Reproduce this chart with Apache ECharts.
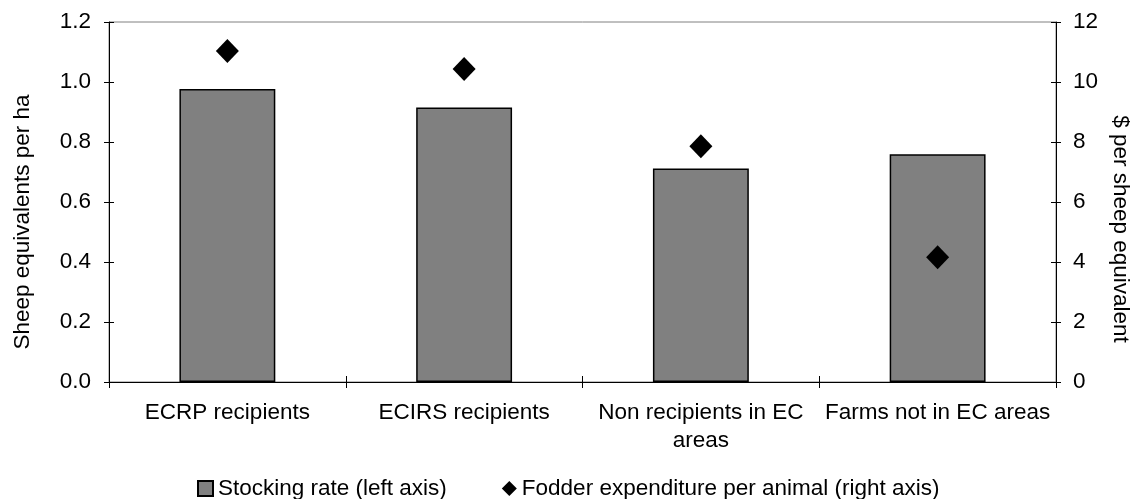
<!DOCTYPE html>
<html><head><meta charset="utf-8">
<script src="https://cdn.jsdelivr.net/npm/echarts@6/dist/echarts.min.js"></script>
<style>html,body{margin:0;padding:0;background:#fff}#c{width:1133px;height:499px}</style>
</head><body><div id="c"></div>
<script>
const categories = ['ECRP recipients', 'ECIRS recipients', 'Non recipients in EC\nareas', 'Farms not in EC areas'];
const stockingRate = [0.977, 0.915, 0.712, 0.759];
const fodderExpenditure = [11.03, 10.43, 7.86, 4.16];
const leftTicks = [0, 1.2, 0.2];
const rightTicks = [0, 12, 2];

const F = 'Liberation Sans, Arial, sans-serif';
const FS = 22.5;
const chart = echarts.init(document.getElementById('c'));
const hiddenAxis = (pos, mn, mx, iv) => ({
  type: 'value', position: pos, min: mn, max: mx, interval: iv,
  axisLine: {show: false}, axisLabel: {show: false}, splitLine: {show: false},
  axisTick: {show: true, inside: true, length: 5, lineStyle: {color: '#000', width: 1}}
});
chart.setOption({
  animation: false,
  textStyle: {fontFamily: F},
  grid: {left: 109, right: 77, top: 22, bottom: 117, show: true, borderColor: '#808080', borderWidth: 1,
         containLabel: false, outerBoundsMode: 'none'},
  legend: {
    top: 472, left: 192, itemGap: 55, itemWidth: 15, itemHeight: 15,
    textStyle: {fontFamily: F, fontSize: FS, color: '#000'},
    data: [
      {name: 'Stocking rate (left axis)', icon: 'rect'},
      {name: 'Fodder expenditure per animal (right axis)', icon: 'diamond'}
    ]
  },
  xAxis: [{
    type: 'category', data: categories,
    axisLine: {lineStyle: {color: '#000', width: 1}},
    axisTick: {show: true, length: 6, lineStyle: {color: '#000'}},
    axisLabel: {fontFamily: F, fontSize: FS, color: '#000', margin: 17, lineHeight: 28, interval: 0}
  }, {
    type: 'category', data: categories, position: 'bottom',
    axisLine: {show: false}, axisLabel: {show: false},
    axisTick: {show: true, inside: true, length: 6, lineStyle: {color: '#000'}}
  }],
  yAxis: [{
    type: 'value', position: 'left', min: leftTicks[0], max: leftTicks[1], interval: leftTicks[2],
    name: 'Sheep equivalents per ha', nameLocation: 'middle', nameGap: 75,
    nameTextStyle: {fontFamily: F, fontSize: FS, color: '#000', padding: [0, 40, 0, 0]},
    axisLine: {show: true, lineStyle: {color: '#000', width: 1}},
    axisTick: {show: true, length: 5, lineStyle: {color: '#000'}},
    axisLabel: {fontFamily: F, fontSize: FS, color: '#000', margin: 18, formatter: v => v.toFixed(1)},
    splitLine: {show: false}
  }, {
    type: 'value', position: 'right', min: rightTicks[0], max: rightTicks[1], interval: rightTicks[2],
    name: '$ per sheep equivalent', nameLocation: 'middle', nameGap: 52, nameRotate: -90,
    nameTextStyle: {fontFamily: F, fontSize: FS, color: '#000', padding: [0, 0, 0, 54]},
    axisLine: {show: true, lineStyle: {color: '#000', width: 1}},
    axisTick: {show: true, length: 5, lineStyle: {color: '#000'}},
    axisLabel: {fontFamily: F, fontSize: FS, color: '#000', margin: 17},
    splitLine: {show: false}
  },
  hiddenAxis('left', leftTicks[0], leftTicks[1], leftTicks[2]),
  hiddenAxis('right', rightTicks[0], rightTicks[1], rightTicks[2])
  ],
  series: [{
    name: 'Stocking rate (left axis)', type: 'bar', yAxisIndex: 0, xAxisIndex: 0,
    data: stockingRate, barWidth: '40.5%',
    itemStyle: {color: '#808080', borderColor: '#000', borderWidth: 1.5}
  }, {
    name: 'Fodder expenditure per animal (right axis)', type: 'scatter', yAxisIndex: 1, xAxisIndex: 0,
    data: fodderExpenditure, symbol: 'diamond', symbolSize: [23, 24],
    itemStyle: {color: '#000', opacity: 1}
  }]
});
</script></body></html>
